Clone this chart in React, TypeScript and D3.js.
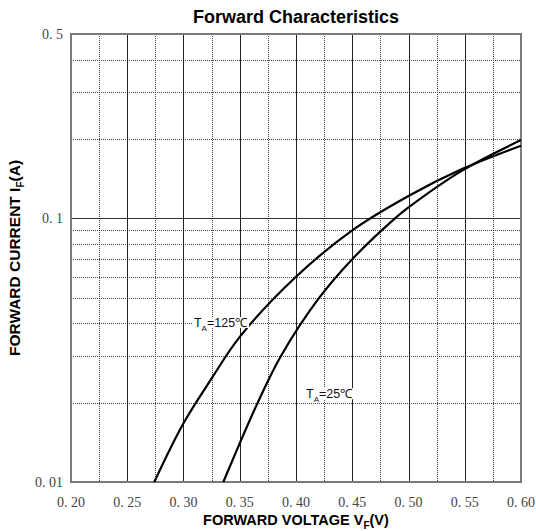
import React, { useRef, useEffect } from 'react';
import * as d3 from 'd3';

// tick values
const voltTicks = [0.2, 0.25, 0.3, 0.35, 0.4, 0.45, 0.5, 0.55, 0.6];
const voltTickLabels = ['0. 20', '0. 25', '0. 30', '0. 35', '0. 40', '0. 45', '0. 50', '0. 55', '0. 60'];
const voltMinor = [0.225, 0.275, 0.325, 0.375, 0.425, 0.475, 0.525, 0.575];
const currTicks = [0.01, 0.1, 0.5];
const currTickLabels = ['0. 01', '0. 1', '0. 5'];
const currMinor = [0.02, 0.03, 0.04, 0.05, 0.06, 0.07, 0.08, 0.09, 0.2, 0.3, 0.4];

// curves
const vf125 = [0.274, 0.3, 0.325, 0.35, 0.4, 0.45, 0.5, 0.548, 0.6];
const if125 = [0.01, 0.0167, 0.0247, 0.0355, 0.06, 0.09, 0.1215, 0.154, 0.1885];
const vf25 = [0.3354, 0.366, 0.3865, 0.4207, 0.45, 0.488, 0.5, 0.548, 0.6];
const if25 = [0.01, 0.02, 0.03, 0.05, 0.07, 0.1, 0.11, 0.152, 0.198];

const labels = [
  { temp: '125', v: 0.3093, i: 0.0387 },
  { temp: '25', v: 0.4089, i: 0.0208 },
];

const Chart = () => {
  const svgRef = useRef(null);

  useEffect(() => {
    const width = 536;
    const height = 531;
    const margin = { top: 34, right: 15, bottom: 49, left: 71 };

    const svg = d3.select(svgRef.current);
    svg.selectAll('*').remove();
    svg.attr('width', width).attr('height', height);

    const x = d3.scaleLinear().domain([0.2, 0.6]).range([margin.left, width - margin.right]);
    const y = d3.scaleLog().domain([0.01, 0.5]).range([height - margin.bottom, margin.top]);

    const [x0, x1] = x.range();
    const [y0, y1] = y.range();

    // dotted minor grid
    svg.append('g')
      .selectAll('line')
      .data(voltMinor)
      .enter()
      .append('line')
      .attr('x1', d => Math.round(x(d)) + 0.5)
      .attr('x2', d => Math.round(x(d)) + 0.5)
      .attr('y1', y1)
      .attr('y2', y0)
      .attr('stroke', '#444')
      .attr('stroke-width', 1)
      .attr('stroke-dasharray', '1,1');

    svg.append('g')
      .selectAll('line')
      .data(currMinor)
      .enter()
      .append('line')
      .attr('x1', x0)
      .attr('x2', x1)
      .attr('y1', d => Math.round(y(d)) + 0.5)
      .attr('y2', d => Math.round(y(d)) + 0.5)
      .attr('stroke', '#444')
      .attr('stroke-width', 1)
      .attr('stroke-dasharray', '1,1');

    // solid major grid
    svg.append('g')
      .selectAll('line')
      .data(voltTicks.slice(1, -1))
      .enter()
      .append('line')
      .attr('x1', d => Math.round(x(d)) + 0.5)
      .attr('x2', d => Math.round(x(d)) + 0.5)
      .attr('y1', y1)
      .attr('y2', y0)
      .attr('stroke', '#222')
      .attr('stroke-width', 1);

    svg.append('line')
      .attr('x1', x0)
      .attr('x2', x1)
      .attr('y1', Math.round(y(0.1)) + 0.5)
      .attr('y2', Math.round(y(0.1)) + 0.5)
      .attr('stroke', '#333')
      .attr('stroke-width', 1);

    // frame
    svg.append('rect')
      .attr('x', x0)
      .attr('y', y1)
      .attr('width', x1 - x0)
      .attr('height', y0 - y1)
      .attr('fill', 'none')
      .attr('stroke', '#7a7a7a')
      .attr('stroke-width', 2);

    // curves
    const line = d3.line()
      .x(d => x(d[0]))
      .y(d => y(d[1]))
      .curve(d3.curveCatmullRom.alpha(0.5));

    const series = [
      vf125.map((v, k) => [v, if125[k]]),
      vf25.map((v, k) => [v, if25[k]]),
    ];

    svg.append('g')
      .selectAll('path')
      .data(series)
      .enter()
      .append('path')
      .attr('d', d => line(d))
      .attr('fill', 'none')
      .attr('stroke', '#000')
      .attr('stroke-width', 2.2);

    // curve labels
    labels.forEach(l => {
      const g = svg.append('g');
      const lx = x(l.v);
      const ly = y(l.i);
      const rect = g.append('rect').attr('fill', '#fff');
      const t = g.append('text')
        .attr('x', lx)
        .attr('y', ly)
        .attr('font-family', 'Liberation Sans, Arial, sans-serif')
        .attr('font-size', 12.5)
        .attr('fill', '#111');
      t.append('tspan').text('T');
      t.append('tspan').attr('font-size', 8).attr('dy', 4).text('A');
      t.append('tspan').attr('dy', -4).text('=' + l.temp + '℃');
      const bb = t.node().getBBox();
      rect.attr('x', bb.x - 1).attr('y', ly - 10).attr('width', bb.width + 2).attr('height', 11);
    });

    // tick labels
    svg.append('g')
      .selectAll('text')
      .data(voltTicks)
      .enter()
      .append('text')
      .attr('x', d => x(d))
      .attr('y', y0 + 25)
      .attr('text-anchor', 'middle')
      .attr('font-family', 'Liberation Serif, Times New Roman, serif')
      .attr('font-size', 14)
      .attr('fill', '#444')
      .text((d, k) => voltTickLabels[k]);

    svg.append('g')
      .selectAll('text')
      .data(currTicks)
      .enter()
      .append('text')
      .attr('x', x0 - 8)
      .attr('y', d => y(d) + 5)
      .attr('text-anchor', 'end')
      .attr('font-family', 'Liberation Serif, Times New Roman, serif')
      .attr('font-size', 14)
      .attr('fill', '#444')
      .text((d, k) => currTickLabels[k]);

    // titles
    const cx = (x0 + x1) / 2;
    svg.append('text')
      .attr('x', cx)
      .attr('y', 23)
      .attr('text-anchor', 'middle')
      .attr('font-family', 'Liberation Sans, Arial, sans-serif')
      .attr('font-weight', 'bold')
      .attr('font-size', 18)
      .text('Forward Characteristics');

    const xt = svg.append('text')
      .attr('x', cx)
      .attr('y', 525)
      .attr('text-anchor', 'middle')
      .attr('font-family', 'Liberation Sans, Arial, sans-serif')
      .attr('font-weight', 'bold')
      .attr('font-size', 14.5);
    xt.append('tspan').text('FORWARD VOLTAGE V');
    xt.append('tspan').attr('font-size', 10).attr('dy', 4).text('F');
    xt.append('tspan').attr('dy', -4).text('(V)');

    const cy = (y0 + y1) / 2;
    const yt = svg.append('text')
      .attr('transform', `translate(20,${cy}) rotate(-90)`)
      .attr('text-anchor', 'middle')
      .attr('font-family', 'Liberation Sans, Arial, sans-serif')
      .attr('font-weight', 'bold')
      .attr('font-size', 15.5);
    yt.append('tspan').text('FORWARD CURRENT I');
    yt.append('tspan').attr('font-size', 10).attr('dy', 4).text('F');
    yt.append('tspan').attr('dy', -4).text('(A)');
  }, []);

  return <svg ref={svgRef} style={{ position: 'absolute', left: 0, top: 0, background: '#fff' }} />;
};

export default function App() {
  return <Chart />;
}
